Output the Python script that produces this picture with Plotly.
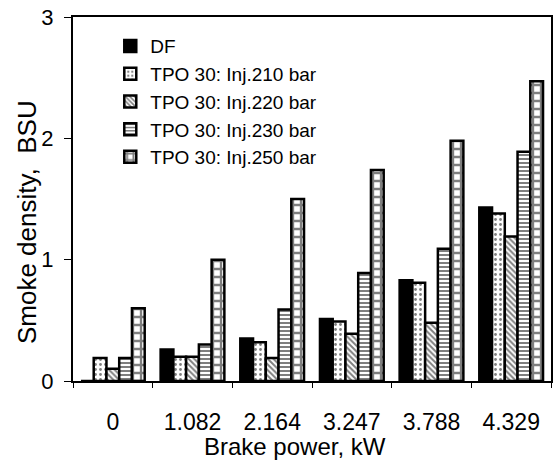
import plotly.graph_objects as go

categories = ["0", "1.082", "2.164", "3.247", "3.788", "4.329"]
series_names = ["DF", "TPO 30: Inj.210 bar", "TPO 30: Inj.220 bar",
                "TPO 30: Inj.230 bar", "TPO 30: Inj.250 bar"]
df_vals = [0.0, 0.26, 0.35, 0.51, 0.83, 1.43]
inj210 = [0.19, 0.20, 0.32, 0.49, 0.81, 1.38]
inj220 = [0.10, 0.20, 0.19, 0.39, 0.48, 1.19]
inj230 = [0.19, 0.30, 0.59, 0.89, 1.09, 1.89]
inj250 = [0.60, 1.00, 1.50, 1.74, 1.98, 2.47]

values = [df_vals, inj210, inj220, inj230, inj250]
patterns = [None,
            dict(shape=".", size=5, solidity=0.25),
            dict(shape="\\", size=4, solidity=0.5),
            dict(shape="-", size=4, solidity=0.5),
            dict(shape="+", size=8, solidity=0.5)]
bgs = ["black", "white", "white", "white", "white"]

FONT = "Liberation Sans, Arial, Helvetica, sans-serif"

fig = go.Figure()
for name, vals, pat, bg in zip(series_names, values, patterns, bgs):
    marker = dict(color=bg, line=dict(color="black", width=2.5))
    if pat:
        marker["pattern"] = dict(fgcolor="black", bgcolor=bg, **pat)
    fig.add_trace(go.Bar(x=categories, y=vals, name=name, marker=marker))

fig.update_layout(
    width=555, height=472,
    margin=dict(l=73, r=2, t=17, b=91),
    paper_bgcolor="white", plot_bgcolor="white",
    barmode="group", bargap=0.2, bargroupgap=0.0,
    font=dict(family=FONT, size=20, color="black"),
    showlegend=True,
    legend=dict(x=0.078, y=0.972, xanchor="left", yanchor="top",
                bgcolor="rgba(0,0,0,0)", font=dict(size=19),
                itemwidth=30, tracegroupgap=0),
    xaxis=dict(
        showline=True, linecolor="black", linewidth=2, mirror=True,
        ticks="outside", tickson="boundaries", ticklen=5, tickcolor="black",
        tickfont=dict(size=23), ticklabelstandoff=19,
    ),
    yaxis=dict(
        range=[0, 3], dtick=1, showgrid=False, zeroline=False,
        showline=True, linecolor="black", linewidth=2, mirror=True,
        ticks="outside", ticklen=7, tickcolor="black",
        tickfont=dict(size=22), ticklabelstandoff=6,
    ),
    annotations=[
        dict(text="Smoke density,  BSU", textangle=-90,
             xref="paper", yref="paper", x=-0.096, y=0.437,
             xanchor="center", yanchor="middle", showarrow=False,
             font=dict(size=26)),
        dict(text="Brake power, kW",
             xref="paper", yref="paper", x=0.465, y=-0.18,
             xanchor="center", yanchor="middle", showarrow=False,
             font=dict(size=24)),
    ],
)

fig.write_html("out.html")
